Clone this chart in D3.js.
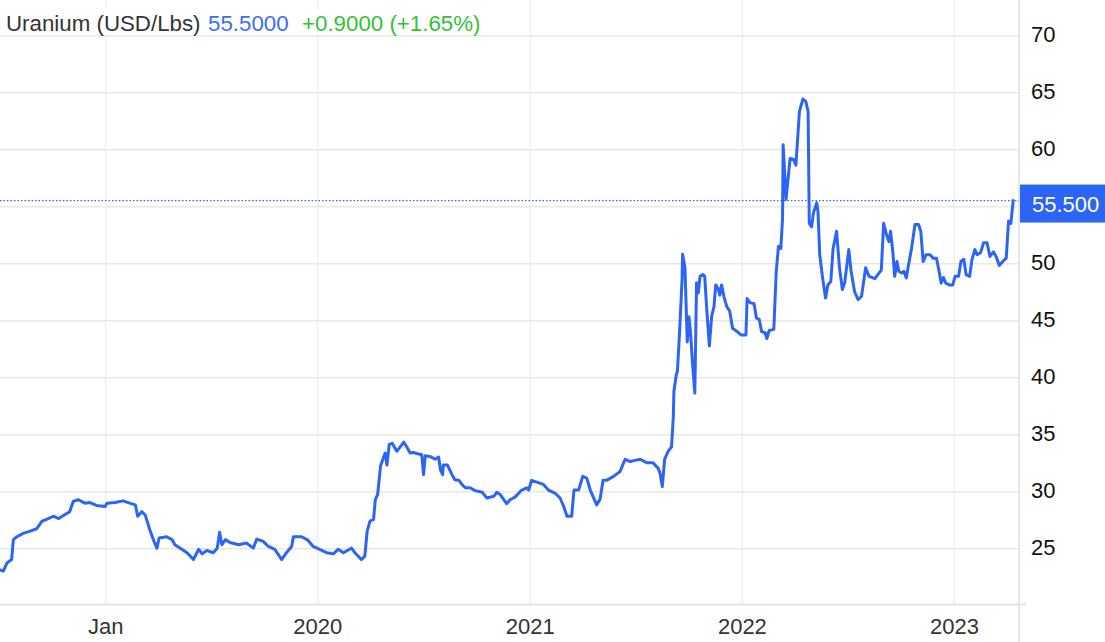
<!DOCTYPE html>
<html><head><meta charset="utf-8">
<script src="https://cdn.jsdelivr.net/npm/d3@7"></script>
<style>
body{margin:0;background:#fff;}
svg{display:block;font-family:Arial,"Liberation Sans",sans-serif;}
</style></head>
<body><svg id="c" width="1105" height="642"></svg>
<script>
const dates = ["2018-07-04","2018-07-10","2018-07-16","2018-07-24","2018-07-27","2018-08-02","2018-08-13","2018-08-25","2018-09-05","2018-09-14","2018-09-23","2018-10-04","2018-10-13","2018-10-24","2018-11-01","2018-11-07","2018-11-16","2018-11-27","2018-12-06","2018-12-17",
"2019-01-01","2019-01-04","2019-01-18","2019-02-01","2019-02-12","2019-02-22","2019-02-26","2019-03-05","2019-03-11","2019-03-19","2019-03-26","2019-03-31","2019-04-04","2019-04-17","2019-04-26","2019-05-01","2019-05-13","2019-05-22","2019-06-02","2019-06-11","2019-06-17","2019-06-25","2019-07-06","2019-07-13","2019-07-17","2019-07-21","2019-07-27","2019-08-04","2019-08-19","2019-09-01","2019-09-13","2019-09-19","2019-09-30","2019-10-09","2019-10-20","2019-11-01","2019-11-09","2019-11-18","2019-11-21","2019-12-05","2019-12-16","2019-12-25",
"2020-01-09","2020-01-17","2020-01-29","2020-02-06","2020-02-15","2020-02-29","2020-03-06","2020-03-17","2020-03-23","2020-03-27","2020-04-01","2020-04-07","2020-04-10","2020-04-14","2020-04-19","2020-04-23","2020-04-27","2020-04-30","2020-05-04","2020-05-09","2020-05-17","2020-05-29","2020-06-03","2020-06-09","2020-06-15","2020-06-20","2020-06-29","2020-07-02","2020-07-05","2020-07-13","2020-07-22","2020-07-28","2020-07-31","2020-08-04","2020-08-05","2020-08-12","2020-08-20","2020-08-25","2020-09-01","2020-09-06","2020-09-12","2020-09-20","2020-09-29","2020-10-11","2020-10-19","2020-10-31","2020-11-05","2020-11-11","2020-11-22","2020-11-28","2020-12-07","2020-12-18","2020-12-27","2020-12-30",
"2021-01-04","2021-01-13","2021-01-24","2021-02-02","2021-02-14","2021-02-22","2021-02-28","2021-03-06","2021-03-14","2021-03-18","2021-03-26","2021-04-02","2021-04-09","2021-04-15","2021-04-26","2021-05-02","2021-05-07","2021-05-13","2021-05-25","2021-06-05","2021-06-14","2021-06-23","2021-07-01","2021-07-10","2021-07-21","2021-08-01","2021-08-10","2021-08-13","2021-08-17","2021-08-21","2021-08-27","2021-09-02","2021-09-05","2021-09-06","2021-09-10","2021-09-12","2021-09-16","2021-09-20","2021-09-21","2021-09-25","2021-09-29","2021-10-02","2021-10-05","2021-10-08","2021-10-12","2021-10-15","2021-10-18","2021-10-21","2021-10-26","2021-10-29","2021-11-02","2021-11-06","2021-11-10","2021-11-14","2021-11-17","2021-11-21","2021-11-24","2021-11-27","2021-12-01","2021-12-06","2021-12-11","2021-12-16","2021-12-24","2021-12-31",
"2022-01-08","2022-01-10","2022-01-15","2022-01-22","2022-01-26","2022-01-31","2022-02-04","2022-02-10","2022-02-13","2022-02-17","2022-02-25","2022-03-01","2022-03-05","2022-03-09","2022-03-12","2022-03-13","2022-03-18","2022-03-25","2022-03-31","2022-04-04","2022-04-10","2022-04-16","2022-04-21","2022-04-25","2022-04-27","2022-05-01","2022-05-04","2022-05-10","2022-05-12","2022-05-15","2022-05-20","2022-05-25","2022-05-29","2022-06-03","2022-06-07","2022-06-13","2022-06-18","2022-06-23","2022-06-27","2022-07-04","2022-07-08","2022-07-14","2022-07-20","2022-07-26","2022-08-02","2022-08-08","2022-08-18","2022-08-23","2022-08-29","2022-09-02","2022-09-07","2022-09-11","2022-09-14","2022-09-18","2022-09-21","2022-09-25","2022-09-28","2022-10-03","2022-10-07","2022-10-11","2022-10-14","2022-10-20","2022-10-26","2022-11-01","2022-11-05","2022-11-09","2022-11-14","2022-11-21","2022-11-26","2022-12-02","2022-12-07","2022-12-10","2022-12-14","2022-12-18","2022-12-24","2022-12-30",
"2023-01-03","2023-01-09","2023-01-13","2023-01-18","2023-01-22","2023-01-28","2023-02-01","2023-02-06","2023-02-10","2023-02-16","2023-02-21","2023-02-27","2023-03-04","2023-03-10","2023-03-15","2023-03-20","2023-03-26","2023-04-01","2023-04-05","2023-04-09","2023-04-13"];

const values = [23.1,23.0,23.7,24.0,25.75,26.0,26.3,26.5,26.7,27.35,27.55,27.8,27.6,27.95,28.2,29.1,29.25,28.95,29.0,28.75,
28.65,28.95,29.0,29.15,28.95,28.8,27.8,28.2,27.9,26.6,25.6,25.0,25.9,26.0,25.75,25.3,24.9,24.6,24.0,24.9,24.5,24.8,24.6,25.0,26.4,25.3,25.75,25.5,25.3,25.45,25.0,25.8,25.6,25.15,24.9,24.0,24.6,25.15,26.0,26.0,25.7,25.15,
24.8,24.6,24.5,24.9,24.6,25.0,24.6,24.0,24.3,26.5,27.4,27.5,29.25,29.7,32.2,32.8,33.35,32.3,34.1,34.2,33.5,34.3,33.9,33.35,33.4,33.3,33.2,31.45,33.1,33.05,32.8,33.0,31.9,31.45,32.3,32.3,31.45,31.0,30.95,30.6,30.3,30.3,30.05,29.9,29.4,29.55,29.9,29.7,28.9,29.25,29.5,30.1,30.3,30.1,
30.95,30.8,30.6,30.1,29.8,29.4,28.7,27.8,27.8,30.1,30.1,31.3,31.15,30.1,28.8,29.3,30.95,30.95,31.3,31.7,32.8,32.6,32.7,32.8,32.5,32.5,32.0,31.6,30.4,32.8,33.5,33.9,36.6,38.75,40.2,40.5,44.2,48.55,50.8,49.6,43.1,45.3,43.6,41.25,38.6,48.3,47.4,48.85,49.0,48.85,45.6,42.75,45.35,46.2,48.1,47.8,47.2,48.1,47.1,46.2,45.8,44.3,44.0,43.7,
43.7,46.9,46.55,46.45,45.2,45.05,44.0,43.9,43.4,44.1,44.2,49.15,51.5,51.3,53.95,60.4,55.6,59.2,59.1,58.6,63.3,64.4,64.2,63.3,53.5,53.2,54.4,55.3,54.55,50.75,48.7,46.95,48.1,48.4,51.3,52.8,49.6,47.7,48.3,51.2,49.3,47.5,46.8,47.1,49.6,48.85,48.65,49.0,49.4,53.5,52.5,51.9,52.8,50.9,48.85,50.15,49.3,49.15,49.3,48.7,49.6,51.3,53.4,53.4,52.8,50.15,50.75,50.75,50.45,50.45,49.15,48.25,48.75,48.25,48.1,48.1,
48.85,48.85,50.15,50.35,49.0,48.85,50.3,51.2,50.75,50.95,51.8,51.8,50.6,51.0,50.55,49.8,50.15,50.45,53.7,53.5,55.5];

const xTickDates = ["2019-01-01","2020-01-01","2021-01-01","2022-01-01","2023-01-01"];
const xTickLabels = ["Jan","2020","2021","2022","2023"];
const yTicks = [25,30,35,40,45,50,55,60,65,70];
const yTickLabels = ["25","30","35","40","45","50","","60","65","70"];
const xDomain = ["2018-07-04","2023-04-23"];
const yDomain = [20.1, 73.1];
const title = "Uranium (USD/Lbs)";
const lastText = "55.5000";
const changeText = "+0.9000 (+1.65%)";
const lastLabel = "55.500";

const parse = d3.utcParse("%Y-%m-%d");
const data = dates.map((d,i)=>({date:parse(d), value:values[i]}));

const W = 1105, H = 642;
const plotR = 1019, plotB = 604;
const blue = "#2c65f6";
const FONT = "Arial, 'Liberation Sans', sans-serif";

const svg = d3.select("#c");
const x = d3.scaleUtc().domain(xDomain.map(parse)).range([0, plotR]);
const y = d3.scaleLinear().domain(yDomain).range([plotB, 0]);

// vertical gridlines
svg.append("g").attr("transform",`translate(0,${plotB})`)
  .call(d3.axisBottom(x).tickValues(xTickDates.map(parse)).tickSize(-plotB).tickFormat(""))
  .call(g=>g.select(".domain").remove())
  .call(g=>g.selectAll(".tick line").attr("stroke","#edf1f7").attr("stroke-width",1.5));

// horizontal gridlines
svg.append("g")
  .call(d3.axisRight(y).tickValues(yTicks).tickSize(plotR).tickFormat(""))
  .call(g=>g.select(".domain").remove())
  .call(g=>g.selectAll(".tick line").attr("stroke","#e8e8e8").attr("stroke-width",1.5));

// bottom axis line and right border
svg.append("line").attr("x1",0).attr("x2",1026).attr("y1",plotB+0.5).attr("y2",plotB+0.5)
  .attr("stroke","#e2e2e2").attr("stroke-width",2);
svg.append("line").attr("x1",plotR).attr("x2",plotR).attr("y1",0).attr("y2",H)
  .attr("stroke","#e6e6e6").attr("stroke-width",2);

// x labels
svg.append("g").attr("transform",`translate(0,${plotB})`)
  .call(d3.axisBottom(x).tickValues(xTickDates.map(parse)).tickSize(0).tickPadding(0)
    .tickFormat((d,i)=>xTickLabels[i]))
  .call(g=>g.select(".domain").remove())
  .call(g=>g.selectAll(".tick text").attr("y",30).attr("dy",0)
     .attr("font-size",22).attr("fill","#333").attr("font-family",FONT));

// y labels (55 is covered by the last-value box in the reference)
svg.append("g").attr("transform",`translate(${plotR},0)`)
  .call(d3.axisRight(y).tickValues(yTicks).tickSize(0).tickPadding(12)
    .tickFormat((d,i)=>yTickLabels[i]))
  .call(g=>g.select(".domain").remove())
  .call(g=>g.selectAll(".tick text").attr("dy","0.3em")
     .attr("font-size",22).attr("fill","#111").attr("font-family",FONT));

// last value dotted line
const last = data[data.length-1];
svg.append("line").attr("x1",0).attr("x2",plotR).attr("y1",y(last.value)).attr("y2",y(last.value))
  .attr("stroke",blue).attr("stroke-width",1.2).attr("stroke-dasharray","1.5,2");

// the line
svg.append("path").datum(data)
  .attr("fill","none").attr("stroke",blue).attr("stroke-width",3)
  .attr("stroke-linejoin","round").attr("stroke-linecap","round")
  .attr("d", d3.line().x(d=>x(d.date)).y(d=>y(d.value)));

// last value label
svg.append("rect").attr("x",plotR+1).attr("y",y(last.value)-16).attr("width",W-plotR-1).attr("height",38)
  .attr("fill",blue);
svg.append("text").attr("x",1032).attr("y",y(last.value)+11).attr("font-size",22).attr("fill","#fff")
  .attr("font-family",FONT).text(lastLabel);

// header
svg.append("rect").attr("x",0).attr("y",10).attr("width",492).attr("height",24).attr("fill","#fff");
const t = svg.append("text").attr("y",31).attr("font-size",22.3).attr("font-family",FONT);
t.append("tspan").attr("x",6).attr("fill","#333").text(title);
t.append("tspan").attr("x",208).attr("fill","#3d6df2").text(lastText);
t.append("tspan").attr("x",302).attr("fill","#35c135").text(changeText);
</script></body></html>
